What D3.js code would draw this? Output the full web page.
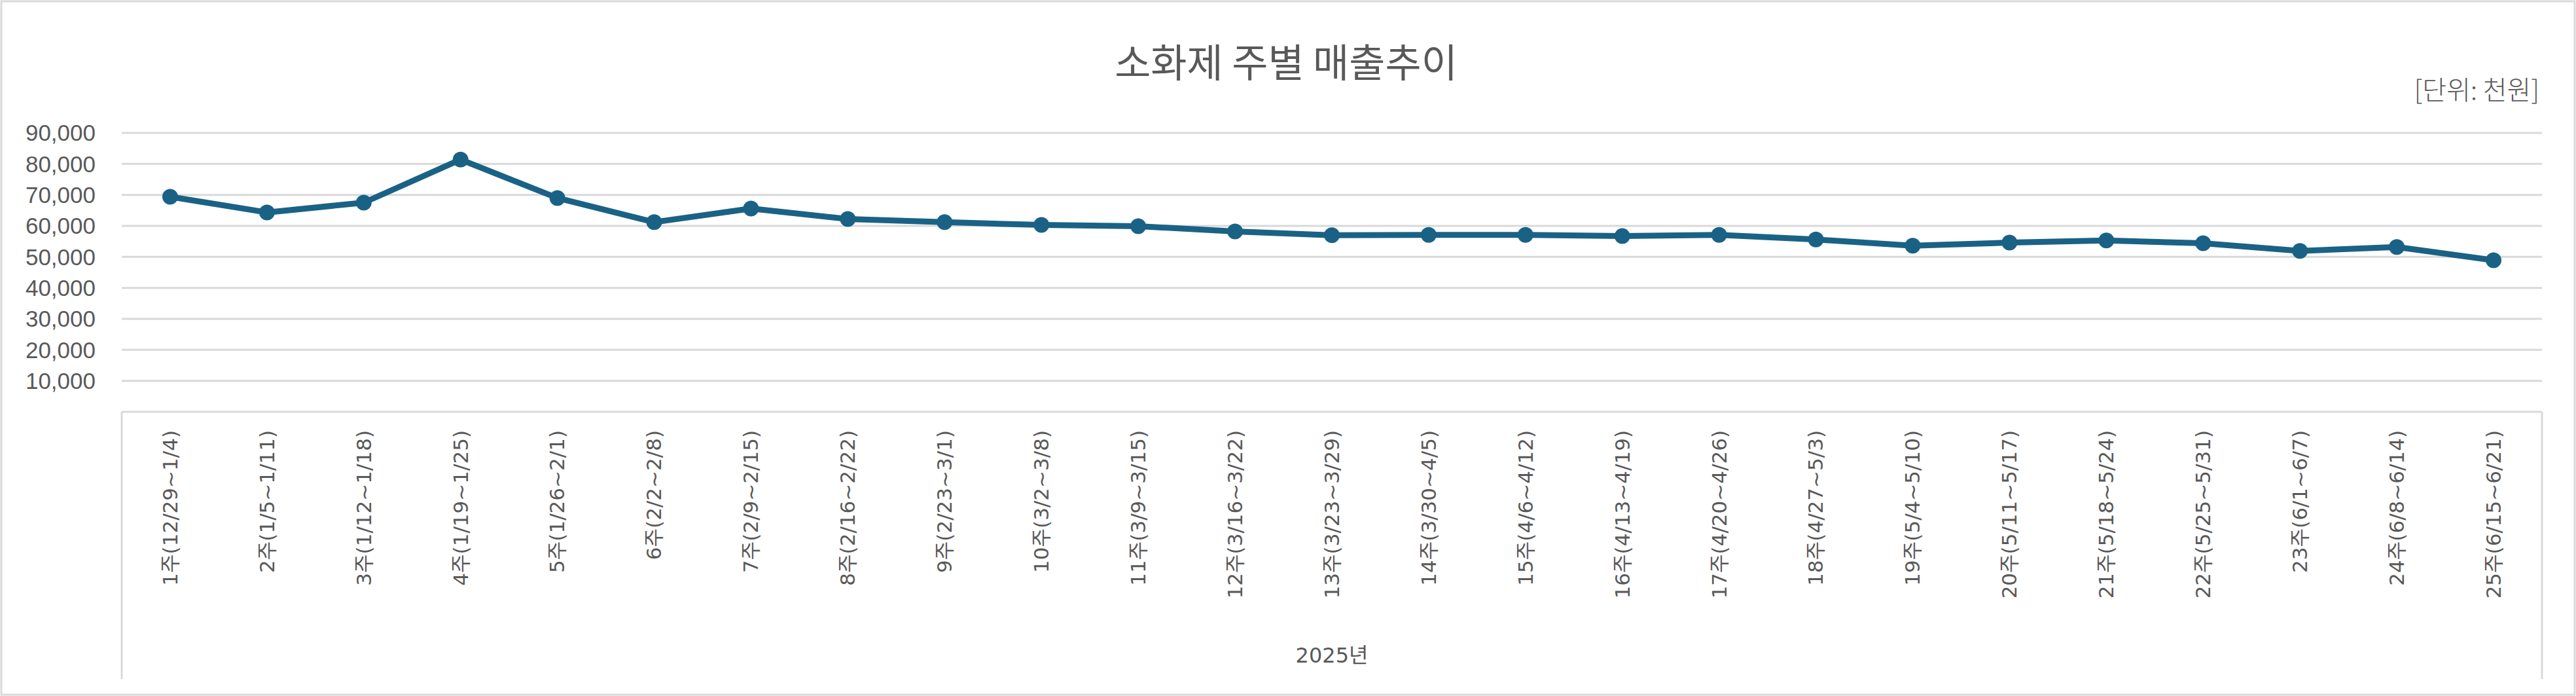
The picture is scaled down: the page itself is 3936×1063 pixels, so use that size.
<!DOCTYPE html>
<html>
<head>
<meta charset="utf-8">
<script src="https://cdn.jsdelivr.net/npm/d3@7"></script>
<style>
  body { margin: 0; background: #fff; }
  text { fill: #595959; }
</style>
</head>
<body>
<svg id="chart" width="3936" height="1063"></svg>
<script>
var weeks = ["1주(12/29~1/4)", "2주(1/5~1/11)", "3주(1/12~1/18)", "4주(1/19~1/25)", "5주(1/26~2/1)",
  "6주(2/2~2/8)", "7주(2/9~2/15)", "8주(2/16~2/22)", "9주(2/23~3/1)", "10주(3/2~3/8)",
  "11주(3/9~3/15)", "12주(3/16~3/22)", "13주(3/23~3/29)", "14주(3/30~4/5)", "15주(4/6~4/12)",
  "16주(4/13~4/19)", "17주(4/20~4/26)", "18주(4/27~5/3)", "19주(5/4~5/10)", "20주(5/11~5/17)",
  "21주(5/18~5/24)", "22주(5/25~5/31)", "23주(6/1~6/7)", "24주(6/8~6/14)", "25주(6/15~6/21)"];
var sales = [69400, 64350, 67500, 81400, 69000, 61200, 65600, 62200, 61200, 60300,
  59900, 58200, 57000, 57100, 57100, 56700, 57100, 55600, 53600, 54600,
  55300, 54400, 51900, 53200, 48900];
var yTicks = [10000, 20000, 30000, 40000, 50000, 60000, 70000, 80000, 90000];

var svg = d3.select("#chart");
var plotLeft = 186, plotRight = 3884, plotTop = 203, plotBottom = 629;

svg.append("rect").attr("x", 2).attr("y", 2).attr("width", 3932).attr("height", 1059)
  .attr("fill", "none").attr("stroke", "#d9d9d9").attr("stroke-width", 3);

var x = d3.scaleBand().domain(weeks).range([plotLeft, plotRight]);
var y = d3.scaleLinear().domain([0, 90000]).range([plotBottom, plotTop]);

// grid
svg.append("g").selectAll("line").data(yTicks).enter().append("line")
  .attr("x1", plotLeft).attr("x2", plotRight)
  .attr("y1", function(d) { return y(d); }).attr("y2", function(d) { return y(d); })
  .attr("stroke", "#d9d9d9").attr("stroke-width", 3);

// y labels
svg.append("g").selectAll("text").data(yTicks).enter().append("text")
  .attr("x", 146).attr("y", function(d) { return y(d); }).attr("dy", "0.35em")
  .attr("text-anchor", "end")
  .style("font", "35px 'Liberation Sans', Arial, sans-serif")
  .text(function(d) { return d3.format(",")(d); });

// category box
svg.append("line").attr("x1", plotLeft).attr("x2", plotRight).attr("y1", plotBottom).attr("y2", plotBottom)
  .attr("stroke", "#d9d9d9").attr("stroke-width", 3);
svg.append("line").attr("x1", plotLeft).attr("x2", plotLeft).attr("y1", plotBottom).attr("y2", 1037)
  .attr("stroke", "#d9d9d9").attr("stroke-width", 3);
svg.append("line").attr("x1", plotRight).attr("x2", plotRight).attr("y1", plotBottom).attr("y2", 1037)
  .attr("stroke", "#d9d9d9").attr("stroke-width", 3);

svg.append("g").selectAll("text").data(weeks).enter().append("text")
  .attr("transform", function(d) { return "translate(" + (x(d) + x.bandwidth() / 2) + ",657) rotate(-90)"; })
  .attr("text-anchor", "end").attr("dy", "0.35em")
  .style("font", "31px 'DejaVu Sans', 'Noto Sans CJK KR', sans-serif")
  .text(function(d) { return d; });

svg.append("text").attr("x", (plotLeft + plotRight) / 2).attr("y", 1012).attr("text-anchor", "middle")
  .style("font", "32px 'DejaVu Sans', 'Noto Sans CJK KR', sans-serif").text("2025년");

// line
var line = d3.line()
  .x(function(d, i) { return x(weeks[i]) + x.bandwidth() / 2; })
  .y(function(d) { return y(d); });
svg.append("path").datum(sales).attr("d", line)
  .attr("fill", "none").attr("stroke", "#1a6285").attr("stroke-width", 9)
  .attr("stroke-linejoin", "round");
svg.append("g").selectAll("circle").data(sales).enter().append("circle")
  .attr("cx", function(d, i) { return x(weeks[i]) + x.bandwidth() / 2; })
  .attr("cy", function(d) { return y(d); })
  .attr("r", 12).attr("fill", "#1a6285");

// titles
svg.append("text").attr("x", 1965).attr("y", 118).attr("text-anchor", "middle")
  .style("font", "60px 'Noto Sans CJK KR', sans-serif").text("소화제 주별 매출추이");
svg.append("text").attr("x", 3880).attr("y", 152).attr("text-anchor", "end")
  .style("font", "300 40px 'Noto Sans CJK KR', sans-serif").text("[단위: 천원]");
</script>
</body>
</html>
